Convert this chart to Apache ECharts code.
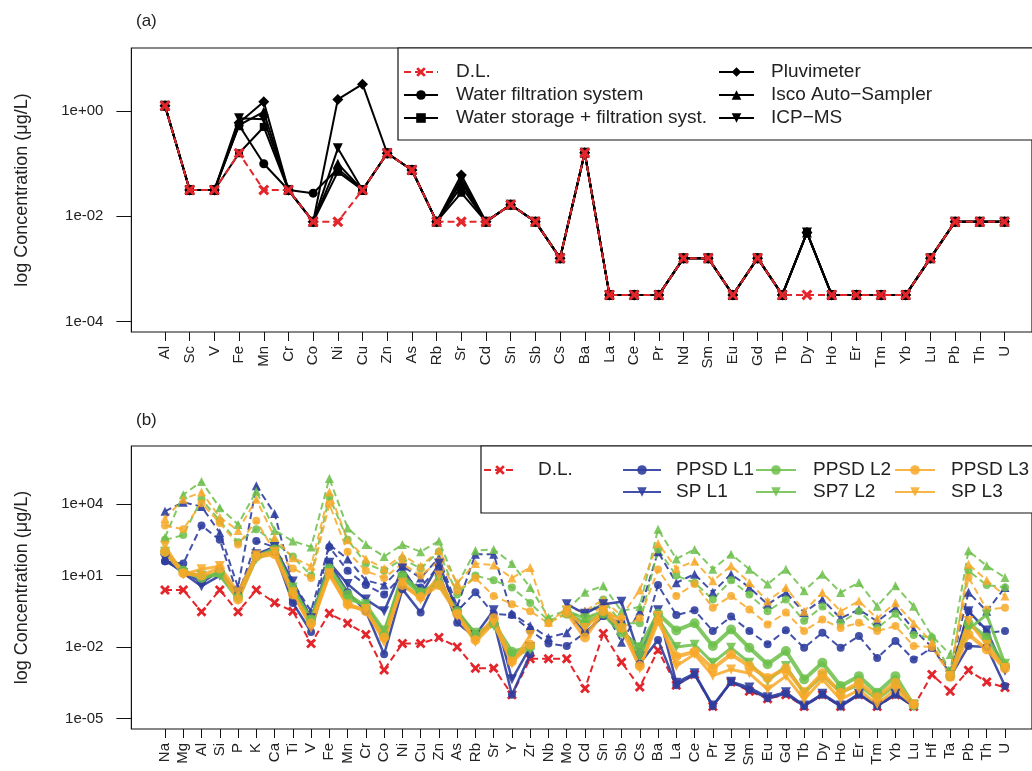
<!DOCTYPE html>
<html><head><meta charset="utf-8">
<script src="https://cdn.jsdelivr.net/npm/echarts@6/dist/echarts.min.js"></script>
<style>html,body{margin:0;padding:0;background:#fff}#c{width:1032px;height:771px}</style>
</head><body><div id="c"></div>
<script>
// ---------- Panel (a) ----------
const catsA = ['Al','Sc','V','Fe','Mn','Cr','Co','Ni','Cu','Zn','As','Rb','Sr','Cd','Sn','Sb','Cs','Ba','La','Ce','Pr','Nd','Sm','Eu','Gd','Tb','Dy','Ho','Er','Tm','Yb','Lu','Pb','Th','U'];
const yTicksA = [1e-4, 1e-2, 1];
const dlA = [1.26,0.0316,0.0316,0.158,0.0316,0.0316,0.0079,0.0079,0.0316,0.158,0.076,0.0079,0.0079,0.0079,0.0166,0.0079,0.0016,0.162,0.00032,0.00032,0.00032,0.0016,0.0016,0.00032,0.0016,0.00032,0.00032,0.00032,0.00032,0.00032,0.00032,0.0016,0.0079,0.0079,0.0079];
const waterFiltration = [1.26,0.0316,0.0316,0.54,0.10,0.0316,0.0275,0.08,0.0316,0.158,0.076,0.0079,0.037,0.0079,0.0166,0.0079,0.0016,0.162,0.00032,0.00032,0.00032,0.0016,0.0016,0.00032,0.0016,0.00032,0.0049,0.00032,0.00032,0.00032,0.00032,0.0016,0.0079,0.0079,0.0079];
const waterStorage = [1.26,0.0316,0.0316,0.158,0.5,0.0316,0.0079,0.07,0.0316,0.158,0.076,0.0079,0.028,0.0079,0.0166,0.0079,0.0016,0.162,0.00032,0.00032,0.00032,0.0016,0.0016,0.00032,0.0016,0.00032,0.0049,0.00032,0.00032,0.00032,0.00032,0.0016,0.0079,0.0079,0.0079];
const pluvimeter = [1.26,0.0316,0.0316,0.6,1.5,0.0316,0.0079,1.67,3.25,0.158,0.076,0.0079,0.061,0.0079,0.0166,0.0079,0.0016,0.162,0.00032,0.00032,0.00032,0.0016,0.0016,0.00032,0.0016,0.00032,0.0049,0.00032,0.00032,0.00032,0.00032,0.0016,0.0079,0.0079,0.0079];
const iscoSampler = [1.26,0.0316,0.0316,0.54,0.97,0.0316,0.0079,0.1,0.0316,0.158,0.076,0.0079,0.045,0.0079,0.0166,0.0079,0.0016,0.162,0.00032,0.00032,0.00032,0.0016,0.0016,0.00032,0.0016,0.00032,0.0049,0.00032,0.00032,0.00032,0.00032,0.0016,0.0079,0.0079,0.0079];
const icpMs = [1.26,0.0316,0.0316,0.73,0.7,0.0316,0.0079,0.196,0.0316,0.158,0.076,0.0079,0.05,0.0079,0.0166,0.0079,0.0016,0.162,0.00032,0.00032,0.00032,0.0016,0.0016,0.00032,0.0016,0.00032,0.0049,0.00032,0.00032,0.00032,0.00032,0.0016,0.0079,0.0079,0.0079];

// ---------- Panel (b) ----------
const catsB = ['Na','Mg','Al','Si','P','K','Ca','Ti','V','Fe','Mn','Cr','Co','Ni','Cu','Zn','As','Rb','Sr','Y','Zr','Nb','Mo','Cd','Sn','Sb','Cs','Ba','La','Ce','Pr','Nd','Sm','Eu','Gd','Tb','Dy','Ho','Er','Tm','Yb','Lu','Hf','Ta','Pb','Th','U'];
const yTicksB = [1e-5, 1e-2, 1e1, 1e4];
const dlB = [2.5,2.5,0.3,2.5,0.3,2.5,0.72,0.32,0.014,0.26,0.1,0.034,0.0011,0.014,0.014,0.025,0.01,0.0013,0.0013,1e-4,0.0032,0.0032,0.0032,1.8e-4,0.037,0.0023,2.1e-4,0.0074,2.5e-4,7e-4,3.2e-5,3.4e-4,1.4e-4,6.8e-5,1e-4,3.2e-5,1e-4,3.2e-5,1e-4,3.2e-5,1e-4,3.2e-5,7e-4,1.4e-4,1.05e-3,3.4e-4,2e-4];
// solid lines
const ppsdL1 = [40,15.8,5.0,15.8,1.6,79,100,0.71,0.043,32,2.0,0.32,0.005,2.7,0.28,12.6,0.105,0.025,0.126,1e-4,0.005,null,0.32,0.04,0.2,0.1,0.002,0.02,2.5e-4,7.1e-4,3.3e-5,3.4e-4,1.6e-4,7.1e-5,1.1e-4,3.3e-5,1.0e-4,3.2e-5,1.0e-4,3.3e-5,1.0e-4,3.3e-5,null,5.6e-4,0.011,0.01,2.3e-4];
const spL1 = [50,12.6,3.6,10,2.0,79,158,5.6,0.16,35,4.4,1.0,0.32,20,1.4,32,0.32,0.032,0.35,4.4e-4,0.01,null,0.63,0.25,0.63,0.79,0.004,0.35,3.2e-4,7.9e-4,3.5e-5,3.5e-4,2e-4,7.9e-5,1.26e-4,3.5e-5,1.1e-4,3.5e-5,1.1e-4,3.5e-5,1.1e-4,3.5e-5,null,6.3e-4,0.32,0.05,0.001];
const ppsdL2 = [100,15.8,7.9,12.6,1.26,63,126,2.5,0.145,20,1.6,0.5,0.032,10,2.0,4.5,0.32,0.032,0.1,0.0063,0.01,null,0.25,0.1,0.25,0.04,0.01,0.25,0.05,0.1,0.011,0.055,0.0093,0.0019,0.0068,4.4e-4,0.0022,2.3e-4,6e-4,1.2e-4,6e-4,3.5e-5,null,6.3e-4,0.1,0.025,0.0016];
const sp7L2 = [100,12.6,10,10,1.0,50,100,3.2,0.126,15.8,1.0,0.63,0.05,7.9,1.6,6.3,0.25,0.04,0.079,0.004,0.0079,null,0.32,0.16,0.32,0.063,0.004,0.16,0.01,0.0126,0.0022,0.0093,0.0022,3.7e-4,0.0016,1.2e-4,6.3e-4,1.26e-4,2.5e-4,6.3e-5,2.5e-4,4e-5,null,6.3e-4,0.055,0.23,0.002];
const ppsdL3 = [100,12.6,10,20,1.0,63,79,1.6,0.1,11.5,0.63,0.32,0.025,4.0,1.26,4.0,0.25,0.02,0.16,0.0025,0.0126,null,0.28,0.025,0.32,0.063,0.0016,0.126,0.004,0.0063,0.00126,0.0049,0.0016,5e-4,0.00126,1.26e-4,7.9e-4,1.2e-4,3.2e-4,7.9e-5,3.2e-4,4e-5,null,5.6e-4,0.034,0.0079,0.00126];
const spL3 = [178,11.2,18.6,25,2.0,71,100,2.0,0.063,12.6,0.5,0.4,0.016,5.0,1.0,10,0.2,0.016,0.1,0.002,0.032,null,0.35,0.063,0.35,0.126,0.00126,0.2,0.0016,0.005,6.3e-4,0.00115,7.9e-4,1.66e-4,6e-4,6.3e-5,4.4e-4,6.3e-5,1.6e-4,4e-5,1.66e-4,3.5e-5,null,6.3e-4,0.123,0.0126,0.00135];
// dashed lines
const ppsdL1Dashed = [40,32,1260,316,1.4,282,158,1.0,0.126,158,15.8,4.0,1.6,10,3.2,25,0.32,2.0,0.25,0.22,0.05,0.014,0.011,0.04,0.2,0.05,0.01,4.0,0.22,0.35,0.047,0.19,0.047,0.013,0.051,0.0093,0.04,0.0093,0.029,0.0035,0.018,0.003,0.0093,7.9e-4,0.32,0.04,0.047];
const spL1Dashed = [5.0e3,1.2e4,7.9e3,630,3.2,5.9e4,4.0e3,5.0,0.32,200,50,6.3,4.0,25,7.9,56,0.5,79,79,0.25,0.079,0.025,0.04,0.32,0.5,0.016,0.32,100,5.0,11.5,2.0,11.5,3.2,0.62,1.95,0.28,1.0,0.16,0.38,0.12,0.45,0.055,0.01,0.001,2.0,0.32,3.2];
const ppsdL2Dashed = [316,500,1.6e4,2000,250,890,250,63,10,2.0e4,316,32,15.8,50,20,100,1.6,10,6.3,3.2,0.71,0.126,0.25,0.2,1.0,0.1,0.1,126,10,5.0,1.0,6.3,1.6,0.32,1.0,0.126,0.5,0.105,0.32,0.063,0.25,0.032,0.025,0.001,15.8,4.0,3.2];
const sp7L2Dashed = [400,2.5e4,8.9e4,7.1e3,1400,3.5e4,790,280,160,1.2e5,1000,200,63,200,100,280,4.0,112,126,32,3.2,0.18,0.35,2.0,3.7,0.32,0.5,890,50,126,18.6,79,18.6,4.4,18.6,2.3,11.5,1.95,5.1,0.52,3.7,0.52,0.029,0.0049,110,25.7,8.3];
const ppsdL3Dashed = [1260,890,1.1e4,1600,200,2000,100,20,7.9,1.0e4,100,15.8,7.9,32,10,40,2.3,7.9,1.4,0.63,0.32,0.1,0.25,0.1,0.71,0.063,0.16,17.8,1.4,4.4,0.45,1.4,0.38,0.089,0.28,0.047,0.145,0.063,0.105,0.047,0.076,0.011,0.01,6.3e-4,8.3,0.38,0.45];
const spL3Dashed = [2500,1.6e4,3.2e4,2800,790,1.6e4,400,56,25,3.2e4,316,50,20,71,25,112,5.0,32,28,7.9,22,0.11,0.4,0.32,1.0,0.2,2.5,224,20,40,6.0,25.7,5.1,0.85,3.2,0.32,1.95,0.32,0.85,0.16,0.72,0.1,0.016,6.3e-4,30,6.3,1.4];

// ---------- styling ----------
const FONT = 'Liberation Sans, Arial, Helvetica, sans-serif';
const TXT = '#222';
const RED = '#E3262C', BLUE = '#2F3E9E', GREEN = '#6CC04A', ORANGE = '#F7A828';
const X_SYM = 'path://M2,0L5,3L8,0L10,2L7,5L10,8L8,10L5,7L2,10L0,8L3,5L0,2Z';
const DOWN_TRI = 'path://M0,0L10,0L5,9Z';

function expFmt(v) {
  const e = Math.round(Math.log10(v));
  return '1e' + (e < 0 ? '-' : '+') + String(Math.abs(e)).padStart(2, '0');
}

function line(name, data, axis, color, symbol, size, width, dashed, z, opacity) {
  return {
    type: 'line', name, data, xAxisIndex: axis, yAxisIndex: axis,
    symbol, symbolSize: size, z: z || 2,
    connectNulls: false,
    lineStyle: { color, width, type: dashed ? [7, 4] : 'solid', opacity: opacity == null ? 1 : opacity },
    itemStyle: { color, opacity: opacity == null ? 1 : opacity, borderWidth: 0 },
    emphasis: { disabled: true }
  };
}

function catAxis(cats, grid) {
  return {
    type: 'category', gridIndex: grid, data: cats, boundaryGap: false,
    axisLine: { show: false },
    axisTick: { show: true, length: 9, interval: 0, lineStyle: { color: '#111', width: 1 } },
    axisLabel: { rotate: 90, interval: 0, fontSize: 15, color: TXT, fontFamily: FONT, margin: 14 },
    splitLine: { show: false }
  };
}
function logAxis(grid, min, max, ticks, center) {
  return {
    type: 'log', gridIndex: grid, min, max, offset: 33.6, position: 'left',
    name: 'log Concentration (\u03bcg/L)', nameLocation: 'middle', nameGap: 100,
    nameTextStyle: { fontSize: 18, color: TXT, fontFamily: FONT },
    axisLine: { show: false },
    axisTick: { show: true, length: 15, customValues: ticks, lineStyle: { color: '#111', width: 1 } },
    axisLabel: { customValues: ticks, formatter: expFmt, fontSize: 15, color: TXT, fontFamily: FONT, margin: 28 },
    splitLine: { show: false }, minorTick: { show: false }
  };
}
const hiddenX = g => ({ type: 'value', gridIndex: g, show: false });
const hiddenY = g => ({ type: 'value', gridIndex: g, show: false });

const frame = (top, bottom) => ({ left: 131.4, right: -6, top, bottom, show: true, borderColor: '#111', borderWidth: 1.2, backgroundColor: 'transparent' });

function legend(names, left, top, gap, itemWidth, pad) {
  return {
    data: names, orient: 'vertical', left, top, padding: 0,
    itemWidth, itemHeight: 12, itemGap: gap, z: 10, selectedMode: false,
    textStyle: { fontSize: 19, color: TXT, fontFamily: FONT, lineHeight: 20, padding: [0, 0, 0, pad] }
  };
}

const blackA = (name, data, sym, size) => line(name, data, 0, '#000', sym, size, 2, false, 2);

const option = {
  animation: false,
  backgroundColor: '#fff',
  title: [
    { text: '(a)', left: 131, top: 8, textStyle: { fontSize: 17, fontWeight: 'normal', color: TXT, fontFamily: FONT } },
    { text: '(b)', left: 131, top: 407, textStyle: { fontSize: 17, fontWeight: 'normal', color: TXT, fontFamily: FONT } }
  ],
  grid: [
    { left: 165, right: 27.5, top: 48, bottom: 439 },
    frame(48, 439),
    { left: 165, right: 27, top: 446, bottom: 42 },
    frame(446, 42)
  ],
  xAxis: [catAxis(catsA, 0), hiddenX(1), catAxis(catsB, 2), hiddenX(3)],
  yAxis: [logAxis(0, 6.31e-5, 15.85, yTicksA), hiddenY(1), logAxis(2, 3.63e-6, 2.754e6, yTicksB), hiddenY(3)],
  graphic: [
    { type: 'rect', shape: { x: 398, y: 48, width: 650, height: 92 }, style: { fill: '#fff', stroke: '#111', lineWidth: 1.2 }, z: 8 },
    { type: 'rect', shape: { x: 481, y: 446, width: 570, height: 67 }, style: { fill: '#fff', stroke: '#111', lineWidth: 1.2 }, z: 8 }
  ],
  legend: [
    legend(['D.L.', 'Water filtration system', 'Water storage + filtration syst.'], 403, 62, 3, 34, 13),
    legend(['Pluvimeter', 'Isco Auto\u2212Sampler', 'ICP\u2212MS'], 718, 62, 3, 35, 12),
    legend(['D.L.'], 483, 460, 2, 32, 17),
    legend(['PPSD L1', 'SP L1'], 622, 460, 2, 38, 10),
    legend(['PPSD L2', 'SP7 L2'], 755, 460, 2, 40, 12),
    legend(['PPSD L3', 'SP L3'], 894, 460, 2, 40, 11)
  ],
  series: [
    blackA('Water filtration system', waterFiltration, 'circle', 9),
    blackA('Water storage + filtration syst.', waterStorage, 'rect', 8),
    blackA('Pluvimeter', pluvimeter, 'diamond', 11),
    blackA('Isco Auto\u2212Sampler', iscoSampler, 'triangle', 10),
    blackA('ICP\u2212MS', icpMs, DOWN_TRI, 10),
    line('D.L.', dlA, 0, RED, X_SYM, 11, 2, true, 3),

    line('D.L.', dlB, 2, RED, X_SYM, 10, 2, true, 2),
    line('PPSD L1', ppsdL1, 2, BLUE, 'circle', 8, 2.5, false, 3, 0.9),
    line('SP L1', spL1, 2, BLUE, DOWN_TRI, 10, 2.5, false, 3, 0.9),
    line('PPSD L2', ppsdL2, 2, GREEN, 'circle', 10, 4, false, 3, 0.85),
    line('SP7 L2', sp7L2, 2, GREEN, DOWN_TRI, 10, 3, false, 3, 0.85),
    line('PPSD L3', ppsdL3, 2, ORANGE, 'circle', 10, 4, false, 3, 0.85),
    line('SP L3', spL3, 2, ORANGE, DOWN_TRI, 10, 3, false, 3, 0.85),
    line('PPSD L1', ppsdL1Dashed, 2, BLUE, 'circle', 8, 2, true, 2, 0.9),
    line('SP L1', spL1Dashed, 2, BLUE, 'triangle', 9, 2, true, 2, 0.9),
    line('PPSD L2', ppsdL2Dashed, 2, GREEN, 'circle', 8, 2, true, 2, 0.85),
    line('SP7 L2', sp7L2Dashed, 2, GREEN, 'triangle', 9, 2, true, 2, 0.85),
    line('PPSD L3', ppsdL3Dashed, 2, ORANGE, 'circle', 8, 2, true, 2, 0.85),
    line('SP L3', spL3Dashed, 2, ORANGE, 'triangle', 9, 2, true, 2, 0.85)
  ]
};

const chart = echarts.init(document.getElementById('c'), null, { renderer: 'canvas' });
chart.setOption(option);
</script>
</body></html>
